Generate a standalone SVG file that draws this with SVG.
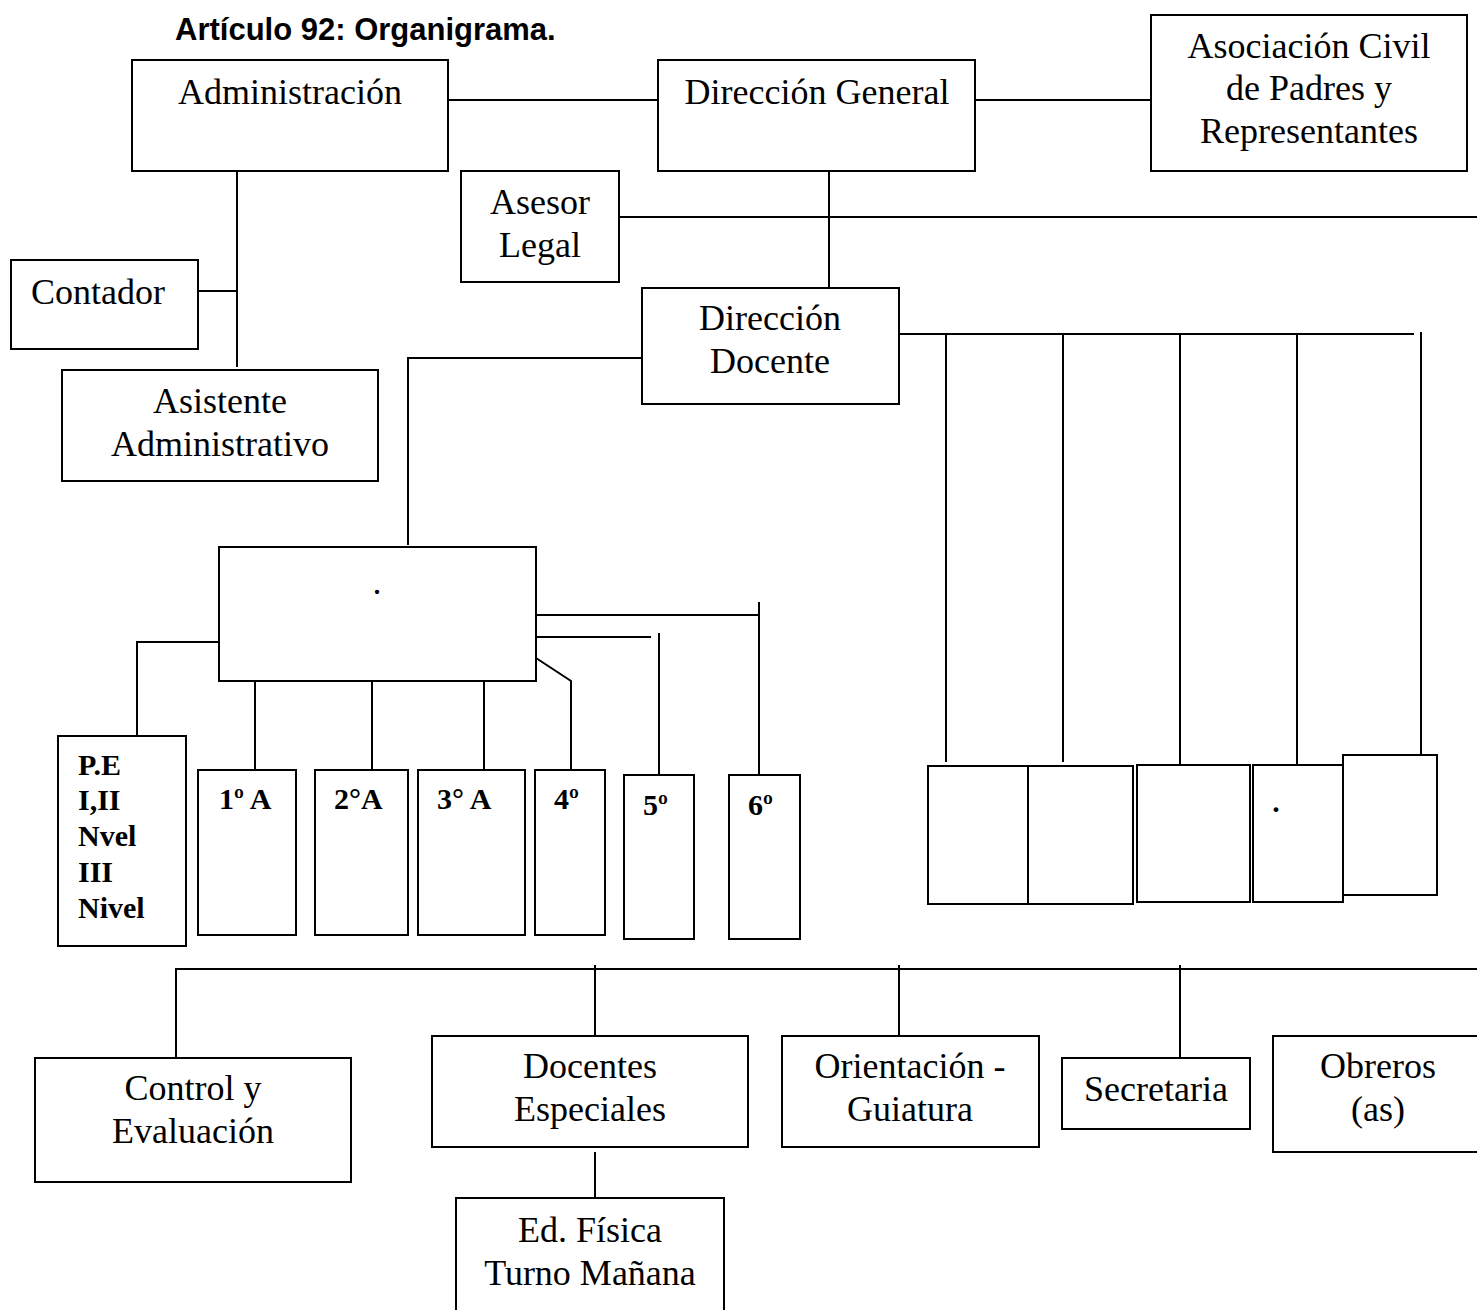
<svg xmlns="http://www.w3.org/2000/svg" width="1477" height="1310" viewBox="0 0 1477 1310">
<style>
  .box { fill: #fff; stroke: #000; stroke-width: 2; }
  .ln { fill: none; stroke: #000; stroke-width: 2; }
  .t { font-family: "Liberation Serif", "Times New Roman", serif; font-size: 36px; fill: #000; text-anchor: middle; }
  .b { font-family: "Liberation Serif", "Times New Roman", serif; font-size: 30px; font-weight: bold; fill: #000; }
  .title { font-family: "Liberation Sans", Arial, sans-serif; font-size: 31px; font-weight: bold; fill: #000; }
</style>
<rect width="1477" height="1310" fill="#fff"/>
<text class="title" x="175" y="40">Artículo 92: Organigrama.</text>

<g id="connectors">
  <line class="ln" x1="448" y1="100" x2="658" y2="100"/>
  <line class="ln" x1="975" y1="100" x2="1151" y2="100"/>
  <line class="ln" x1="829" y1="168" x2="829" y2="288"/>
  <line class="ln" x1="619" y1="217" x2="1477" y2="217"/>
  <line class="ln" x1="237" y1="171" x2="237" y2="367"/>
  <line class="ln" x1="198" y1="291" x2="237" y2="291"/>
  <polyline class="ln" points="642,358 408,358 408,545"/>
  <line class="ln" x1="899" y1="334" x2="1414" y2="334"/>
  <line class="ln" x1="946" y1="334" x2="946" y2="762"/>
  <line class="ln" x1="1063" y1="334" x2="1063" y2="762"/>
  <line class="ln" x1="1180" y1="334" x2="1180" y2="767"/>
  <line class="ln" x1="1297" y1="334" x2="1297" y2="765"/>
  <line class="ln" x1="1421" y1="332" x2="1421" y2="755"/>
  <polyline class="ln" points="219,642 137,642 137,736"/>
  <line class="ln" x1="255" y1="681" x2="255" y2="770"/>
  <line class="ln" x1="372" y1="681" x2="372" y2="770"/>
  <line class="ln" x1="484" y1="681" x2="484" y2="770"/>
  <polyline class="ln" points="536,658 571,681 571,770"/>
  <line class="ln" x1="536" y1="637" x2="651" y2="637"/>
  <line class="ln" x1="659" y1="633" x2="659" y2="775"/>
  <line class="ln" x1="536" y1="615" x2="760" y2="615"/>
  <line class="ln" x1="759" y1="602" x2="759" y2="775"/>
  <line class="ln" x1="175" y1="969" x2="1477" y2="969"/>
  <line class="ln" x1="176" y1="969" x2="176" y2="1058"/>
  <line class="ln" x1="595" y1="965" x2="595" y2="1036"/>
  <line class="ln" x1="899" y1="965" x2="899" y2="1036"/>
  <line class="ln" x1="1180" y1="965" x2="1180" y2="1058"/>
  <line class="ln" x1="595" y1="1152" x2="595" y2="1198"/>
</g>

<g id="administracion"><rect class="box" x="132" y="60" width="316" height="111"/><text class="t" x="290" y="104">Administración</text></g>
<g id="direccion-general"><rect class="box" x="658" y="60" width="317" height="111"/><text class="t" x="817" y="104">Dirección General</text></g>
<g id="asociacion"><rect class="box" x="1151" y="15" width="316" height="156"/><text class="t" x="1309" y="58">Asociación Civil</text><text class="t" x="1309" y="100">de Padres y</text><text class="t" x="1309" y="143">Representantes</text></g>
<g id="asesor-legal"><rect class="box" x="461" y="171" width="158" height="111"/><text class="t" x="540" y="214">Asesor</text><text class="t" x="540" y="257">Legal</text></g>
<g id="contador"><rect class="box" x="11" y="260" width="187" height="89"/><text class="t" x="98" y="304">Contador</text></g>
<g id="asistente"><rect class="box" x="62" y="370" width="316" height="111"/><text class="t" x="220" y="413">Asistente</text><text class="t" x="220" y="456">Administrativo</text></g>
<g id="direccion-docente"><rect class="box" x="642" y="288" width="257" height="116"/><text class="t" x="770" y="330">Dirección</text><text class="t" x="770" y="373">Docente</text></g>

<g id="blank-center"><rect class="box" x="219" y="547" width="317" height="134"/><text class="t" x="377" y="594">.</text></g>
<g id="pe"><rect class="box" x="58" y="736" width="128" height="210"/><text class="b" x="78" y="775">P.E</text><text class="b" x="78" y="810">I,II</text><text class="b" x="78" y="846">Nvel</text><text class="b" x="78" y="882">III</text><text class="b" x="78" y="918">Nivel</text></g>
<g id="g1"><rect class="box" x="198" y="770" width="98" height="165"/><text class="b" x="219" y="809">1º A</text></g>
<g id="g2"><rect class="box" x="315" y="770" width="93" height="165"/><text class="b" x="334" y="809">2°A</text></g>
<g id="g3"><rect class="box" x="418" y="770" width="107" height="165"/><text class="b" x="437" y="809">3° A</text></g>
<g id="g4"><rect class="box" x="535" y="770" width="70" height="165"/><text class="b" x="554" y="809">4º</text></g>
<g id="g5"><rect class="box" x="624" y="775" width="70" height="164"/><text class="b" x="643" y="815">5º</text></g>
<g id="g6"><rect class="box" x="729" y="775" width="71" height="164"/><text class="b" x="748" y="815">6º</text></g>

<g id="r1"><rect class="box" x="928" y="766" width="100" height="138"/></g>
<g id="r2"><rect class="box" x="1028" y="766" width="105" height="138"/></g>
<g id="r3"><rect class="box" x="1137" y="765" width="113" height="137"/></g>
<g id="r4"><rect class="box" x="1253" y="765" width="90" height="137"/><text class="b" x="1276" y="812" text-anchor="middle">.</text></g>
<g id="r5"><rect class="box" x="1343" y="755" width="94" height="140"/></g>

<g id="control"><rect class="box" x="35" y="1058" width="316" height="124"/><text class="t" x="193" y="1100">Control y</text><text class="t" x="193" y="1143">Evaluación</text></g>
<g id="docentes"><rect class="box" x="432" y="1036" width="316" height="111"/><text class="t" x="590" y="1078">Docentes</text><text class="t" x="590" y="1121">Especiales</text></g>
<g id="orientacion"><rect class="box" x="782" y="1036" width="257" height="111"/><text class="t" x="910" y="1078">Orientación -</text><text class="t" x="910" y="1121">Guiatura</text></g>
<g id="secretaria"><rect class="box" x="1062" y="1058" width="188" height="71"/><text class="t" x="1156" y="1101">Secretaria</text></g>
<g id="obreros"><rect class="box" x="1273" y="1036" width="210" height="116"/><text class="t" x="1378" y="1078">Obreros</text><text class="t" x="1378" y="1121">(as)</text></g>
<g id="edfisica"><rect class="box" x="456" y="1198" width="268" height="120"/><text class="t" x="590" y="1242">Ed. Física</text><text class="t" x="590" y="1285">Turno Mañana</text></g>
</svg>
